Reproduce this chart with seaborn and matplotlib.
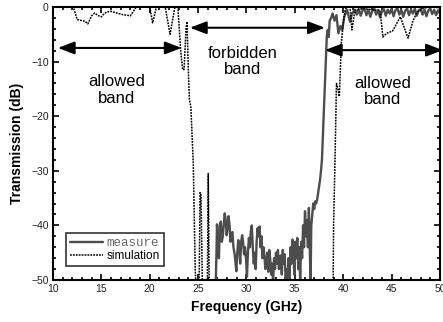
import numpy as np
import pandas as pd
import matplotlib
matplotlib.use("Agg")
import matplotlib.pyplot as plt
import seaborn as sns
from matplotlib.ticker import MultipleLocator

# ---------------- data ----------------
sim_freq = [10.0, 11.5, 12.1, 12.5, 13.0, 13.3, 13.6, 14.0, 14.3, 14.7, 15.0, 15.3,
            15.6, 16.0, 16.6, 17.2, 18.0, 18.5, 18.8, 19.6, 20.0, 20.3, 20.7, 21.0,
            21.4, 21.6, 22.1, 22.6, 22.9, 23.2, 23.4, 23.55, 23.75, 23.85, 24.0, 24.1,
            24.25, 24.5, 24.7, 24.8, 25.1, 25.2, 25.3, 25.45, 25.95, 26.05, 26.15,
            38.95, 39.0, 39.15, 39.3, 39.45, 39.6, 39.8, 40.0, 40.2, 40.4, 40.7,
            40.9, 41.2, 42.0, 43.0, 43.8, 44.1, 44.5, 45.1, 45.9, 46.7, 47.2, 47.6,
            48.2, 49.0, 50.0]
sim_db = [1.5, 1.0, 0.0, -2.3, -2.5, -2.6, -3.1, -1.6, -1.1, -1.6, -1.8, -1.2,
          -0.9, -0.8, -1.1, -1.4, -1.6, -0.3, 0.8, 0.8, 0.0, -2.9, 0.0, 0.8,
          0.5, 0.0, -5.0, 0.0, 0.2, -8.0, -11.5, -11.4, -4.0, -2.7, -12.0, -17.0,
          -18.3, -28.6, -48.0, -52.0, -52.0, -34.0, -34.5, -52.0, -52.0, -30.5, -52.0,
          -52.0, -40.0, -28.0, -14.0, -15.0, -16.4, -6.6, -3.0, -0.5, 0.2, 0.0,
          -4.2, -0.6, -0.3, -0.5, -0.6, -5.5, -4.8, -4.4, -1.8, -5.7, -2.6, -1.0,
          -0.3, 0.1, -0.2]

meas_freq = [26.80, 26.90, 26.95, 27.05, 27.15, 27.25, 27.35, 27.45, 27.55, 27.65,
             27.75, 27.85, 27.95, 28.05, 28.15, 28.25, 28.35, 28.45, 28.55, 28.65,
             28.75, 28.85, 28.95, 29.05, 29.15, 29.25, 29.35, 29.45, 29.55, 29.65,
             29.75, 29.85, 29.95, 30.05, 30.15, 30.25, 30.35, 30.45, 30.55, 30.65,
             30.75, 30.85, 30.95, 31.05, 31.15, 31.25, 31.35, 31.45, 31.55, 31.65,
             31.75, 31.85, 31.95, 32.05, 32.15, 32.25, 32.35, 32.45, 32.55, 32.65,
             32.75, 32.85, 32.95, 33.05, 33.15, 33.25, 33.35, 33.45, 33.55, 33.65,
             33.75, 33.85, 33.95, 34.05, 34.15, 34.25, 34.35, 34.45, 34.55, 34.65,
             34.75, 34.85, 34.95, 35.05, 35.15, 35.25, 35.35, 35.45, 35.55, 35.65,
             35.75, 35.85, 35.95, 36.05, 36.15, 36.25, 36.35, 36.45, 36.55, 36.62,
             36.70, 36.80, 36.90, 37.00, 37.10, 37.20, 37.30, 37.45, 37.60, 37.70,
             37.80, 38.30, 38.40, 38.50, 38.60, 38.80, 38.90, 39.10, 39.30, 39.50,
             39.70, 39.90, 40.10, 40.40, 40.55, 40.70, 40.90, 41.20, 41.40, 41.60,
             41.80, 42.00, 42.20, 42.40, 42.60, 42.80, 43.00, 43.20, 43.40, 43.60,
             43.80, 44.00, 44.20, 44.40, 44.60, 44.80, 45.00, 45.20, 45.40, 45.60,
             45.80, 46.00, 46.20, 46.40, 46.60, 46.80, 47.00, 47.20, 47.40, 47.60,
             47.80, 48.00, 48.20, 48.40, 48.60, 48.80, 49.00, 49.20, 49.40, 49.60,
             49.80, 50.00]
meas_db = [-52.0, -45.0, -39.8, -44.0, -46.0, -40.0, -39.3, -43.0, -42.0, -40.0,
           -37.8, -39.0, -41.8, -40.5, -38.3, -40.0, -43.0, -41.5, -41.2, -44.0,
           -45.0, -46.5, -48.4, -45.0, -42.7, -44.0, -47.0, -43.0, -41.8, -43.0,
           -45.3, -44.0, -46.0, -49.4, -45.0, -42.3, -44.0, -41.0, -40.0, -44.0,
           -47.0, -45.0, -48.0, -43.0, -40.5, -42.0, -40.2, -44.0, -42.0, -46.0,
           -44.0, -45.5, -48.0, -47.0, -45.0, -48.5, -44.5, -46.0, -49.0, -47.0,
           -50.5, -46.0, -48.0, -45.0, -47.0, -44.5, -48.0, -46.0, -45.5, -49.0,
           -44.5, -47.0, -45.3, -50.5, -48.0, -51.0, -46.0, -50.0, -44.0, -47.0,
           -42.6, -45.0, -49.0, -43.0, -46.0, -42.3, -48.0, -44.0, -50.0, -43.0,
           -46.0, -40.0, -44.0, -37.4, -42.0, -39.0, -44.0, -36.8, -45.0, -50.5,
           -40.0, -38.0, -36.0, -37.0, -35.6, -36.0, -35.3, -33.5, -31.7, -30.0,
           -28.0, -5.4, -4.2, -5.5, -2.5, -1.8, -1.2, -2.5, -1.5, -4.8,
           -3.5, -4.2, -1.8, -0.5, -1.6, -2.7, -1.2, -0.5, -1.4, -0.4,
           -1.6, -0.6, -0.3, -1.5, -0.5, -1.8, -0.7, -0.3, -1.4, -0.6,
           -1.9, -0.8, -0.4, -1.6, -0.5, -1.2, -0.3, -1.7, -0.6, -0.2,
           -1.4, -0.5, -1.8, -0.7, -0.3, -1.5, -0.5, -1.2, -0.3, -1.6,
           -0.6, -0.4, -1.4, -0.5, -1.7, -0.6, -0.3, -1.3, -0.5, -1.5,
           -0.6, -1.2]

series_labels = ["measure", "simulation"]
band_labels = ["allowed\nband", "forbidden\nband", "allowed\nband"]
x_label = "Frequency (GHz)"
y_label = "Transmission (dB)"

# ---------------- plotting ----------------
sns.set_style("ticks")
plt.rcParams["font.family"] = ["Liberation Sans", "DejaVu Sans"]
plt.rcParams["text.color"] = "black"
plt.rcParams["axes.labelcolor"] = "black"

fig = plt.figure(figsize=(4.43, 3.22), dpi=100)
ax = fig.add_axes([0.1196, 0.1304, 0.8736, 0.8479])

meas_df = pd.DataFrame({"f": meas_freq, "t": meas_db})
sim_df = pd.DataFrame({"f": sim_freq, "t": sim_db})

sns.lineplot(data=meas_df, x="f", y="t", ax=ax, sort=False, estimator=None,
             color="#4d4d4d", linewidth=1.7, label=series_labels[0])
sns.lineplot(data=sim_df, x="f", y="t", ax=ax, sort=False, estimator=None,
             color="black", linewidth=1.1, linestyle=(0, (1.2, 0.7)),
             label=series_labels[1])

ax.set_xlim(10, 50)
ax.set_ylim(-50, 0)
ax.xaxis.set_major_locator(MultipleLocator(5))
ax.xaxis.set_minor_locator(MultipleLocator(1))
ax.yaxis.set_major_locator(MultipleLocator(10))
ax.yaxis.set_minor_locator(MultipleLocator(2))
ax.tick_params(which="both", direction="in", top=True, right=True,
               labelsize=7.5, width=1.2, colors="black", pad=3)
ax.tick_params(which="major", length=4)
ax.tick_params(which="minor", length=2.2)
for lbl in ax.get_xticklabels() + ax.get_yticklabels():
    lbl.set_color("#222222")
for s in ax.spines.values():
    s.set_linewidth(1.5)
    s.set_color("black")

ax.set_xlabel(x_label, fontsize=10, fontweight="bold", labelpad=4)
ax.set_ylabel(y_label, fontsize=10, fontweight="bold", labelpad=5)

# arrows
arrow_kw = dict(arrowstyle="<|-|>,head_length=1.0,head_width=0.38",
                color="black", lw=1.5, shrinkA=0, shrinkB=0)
ax.annotate("", xy=(10.5, -7.5), xytext=(23.3, -7.5), arrowprops=arrow_kw,
            annotation_clip=False)
ax.annotate("", xy=(24.15, -3.8), xytext=(38.1, -3.8), arrowprops=arrow_kw,
            annotation_clip=False)
ax.annotate("", xy=(38.1, -7.9), xytext=(50.3, -7.9), arrowprops=arrow_kw,
            annotation_clip=False)

ax.text(16.6, -15.2, band_labels[0], ha="center", va="center", fontsize=12,
        linespacing=1.1)
ax.text(29.6, -10.0, band_labels[1], ha="center", va="center", fontsize=12,
        linespacing=1.1)
ax.text(44.1, -15.5, band_labels[2], ha="center", va="center", fontsize=12,
        linespacing=1.1)

leg = ax.legend(loc="lower left", bbox_to_anchor=(0.034, 0.051),
                borderaxespad=0, frameon=True, fancybox=False, fontsize=8.5,
                handlelength=2.8, handletextpad=0.3, borderpad=0.35,
                labelspacing=0.1)
leg.get_frame().set_edgecolor("black")
leg.get_frame().set_linewidth(1.2)
leg.get_texts()[0].set_fontfamily("Liberation Mono")
leg.get_texts()[0].set_color("#666666")
leg.get_texts()[0].set_fontsize(9)

fig.savefig("out.png", dpi=100)
